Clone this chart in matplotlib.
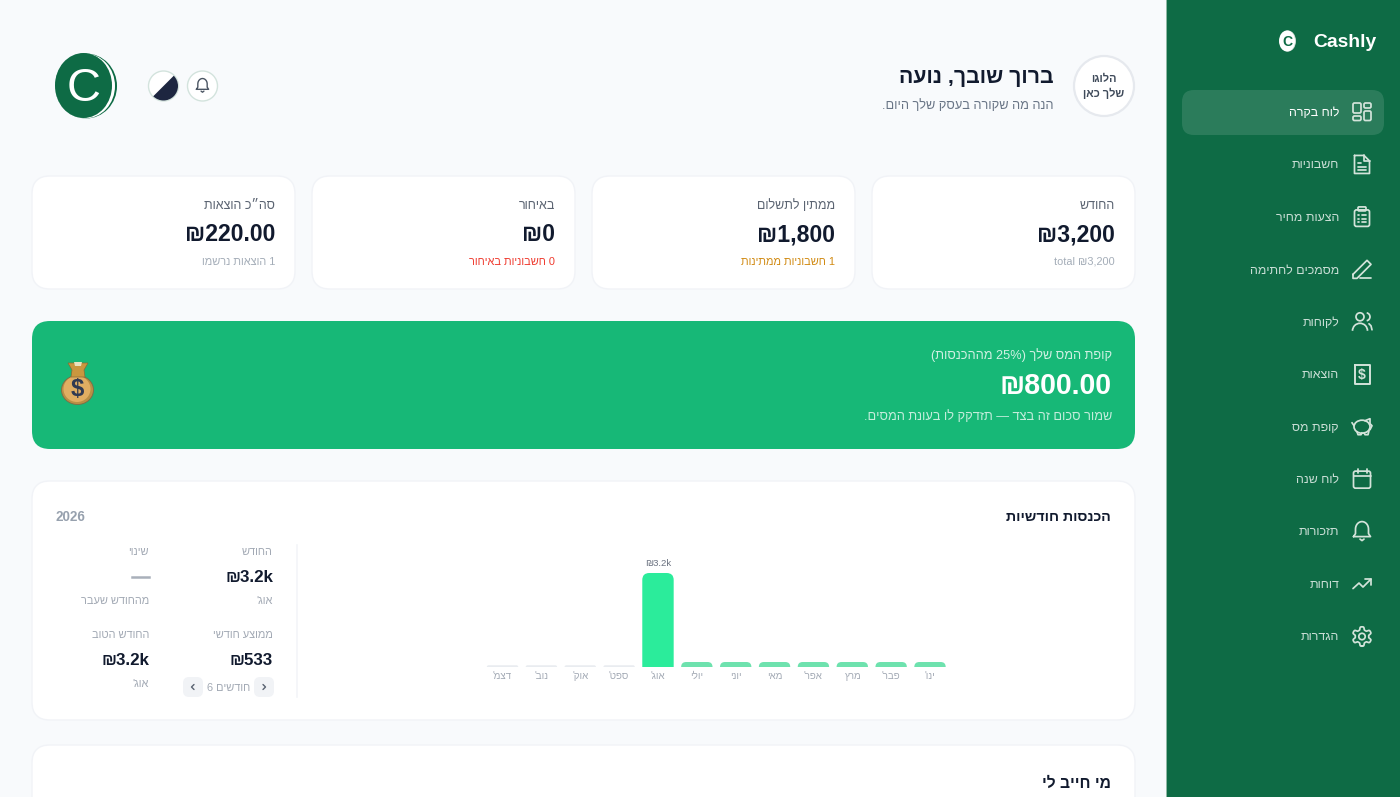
import re
import numpy as np
import matplotlib
matplotlib.use("Agg")
from matplotlib import pyplot as plt
from matplotlib.patches import FancyBboxPatch, Circle, Rectangle, Polygon, PathPatch, Wedge, Ellipse, Arc
from matplotlib.path import Path

FONT = ["Liberation Sans", "DejaVu Sans"]

# data
months = ["ינו'", "פבר'", "מרץ", "אפר'", "מאי", "יוני", "יולי", "אוג'", "ספט'", "אוק'", "נוב'", "דצמ'"]
income = [170, 170, 170, 170, 170, 170, 170, 3200, 60, 60, 60, 60]
bar_label = "₪3.2k"

nav_items = ["לוח בקרה", "חשבוניות", "הצעות מחיר", "מסמכים לחתימה", "לקוחות", "הוצאות",
             "קופת מס", "לוח שנה", "תזכורות", "דוחות", "הגדרות"]

card_titles = ["החודש", "ממתין לתשלום", "באיחור", "סה״כ הוצאות"]
card_values = ["₪3,200", "₪1,800", "₪0", "₪220.00"]
card_notes = ["total ₪3,200", "1 חשבוניות ממתינות", "0 חשבוניות באיחור", "1 הוצאות נרשמו"]

stat_titles = ["החודש", "שינוי", "ממוצע חודשי", "החודש הטוב"]
stat_values = ["₪3.2k", "—", "₪533", "₪3.2k"]
stat_notes = ["אוג'", "מהחודש שעבר", "", "אוג'"]

GREEN = "#0e6b45"
DARK = "#111a2e"
LINE = "#f1f3f7"


def vis(s):
    # matplotlib has no bidi, so hebrew goes in visual order
    if not re.search("[\u0590-\u05ff]", s):
        return s
    parts = re.split(r"([A-Za-z0-9₪][A-Za-z0-9₪%.,]*(?: [A-Za-z0-9₪][A-Za-z0-9₪%.,]*)*)", s)
    out = []
    for i, p in enumerate(parts):
        if i % 2 == 1:
            out.append(p)
        else:
            out.append(p[::-1].translate(str.maketrans("()", ")(")))
    return "".join(out[::-1])


fig = plt.figure(figsize=(14, 7.97), dpi=100, facecolor="#f8fafc")
ax = fig.add_axes([0, 0, 1, 1])
ax.set_xlim(0, 1400)
ax.set_ylim(797, 0)
ax.axis("off")


def txt(x, y, s, px, color=DARK, ha="right", bold=False, alpha=None):
    ax.text(x, y + 0.8, vis(s), fontsize=px * 0.72, color=color, ha=ha, va="center", zorder=10,
            fontweight="bold" if bold else "normal", family=FONT, alpha=alpha)


def box(x0, y0, x1, y1, r, fc, ec="none", lw=1, alpha=None, z=1):
    ax.add_patch(FancyBboxPatch((x0, y0), x1 - x0, y1 - y0, boxstyle=f"round,pad=0,rounding_size={r}",
                                fc=fc, ec=ec, lw=lw, alpha=alpha, zorder=z))


ICON = "#d3e3da"


def line(pts, color=ICON, lw=1.25, closed=False):
    pts = list(pts)
    if closed:
        pts.append(pts[0])
    xs, ys = zip(*pts)
    ax.plot(xs, ys, color=color, lw=lw, solid_capstyle="round", solid_joinstyle="round", zorder=4)


def rbox(cx, cy, x0, y0, x1, y1, r=2, color=ICON, lw=1.25):
    ax.add_patch(FancyBboxPatch((cx + x0, cy + y0), x1 - x0, y1 - y0, boxstyle=f"round,pad=0,rounding_size={r}",
                                fc="none", ec=color, lw=lw, zorder=4))


def circ(cx, cy, r, color=ICON, lw=1.25, fc="none"):
    ax.add_patch(Circle((cx, cy), r, fc=fc, ec=color, lw=lw, zorder=4))


def bell(cx, cy, color=ICON, lw=1.25, s=1.0):
    pts = [(-8.5, 6), (-6.5, 3), (-6.5, -1.5)]
    a = np.linspace(np.pi, 2 * np.pi, 20)
    pts += [(6.5 * np.cos(t), -1.5 + 7.5 * np.sin(t)) for t in a]
    pts += [(6.5, 3), (8.5, 6)]
    line([(cx + s * a_, cy + s * b_) for a_, b_ in pts], color, lw, closed=True)
    line([(cx - 2 * s, cy + 8.5 * s), (cx, cy + 10 * s), (cx + 2 * s, cy + 8.5 * s)], color, lw)


def draw_icon(i, cx, cy):
    if i == 0:
        rbox(cx, cy, -9, -9, -1, 1, r=1.5)
        rbox(cx, cy, 2, -9, 9, -4, r=1.5)
        rbox(cx, cy, -9, 4, -1, 8.5, r=1.5)
        rbox(cx, cy, 2, -1, 9, 8.5, r=1.5)
    elif i == 1:
        line([(cx - 7.5, cy - 9), (cx + 2, cy - 9), (cx + 7.5, cy - 3.5), (cx + 7.5, cy + 9), (cx - 7.5, cy + 9)], closed=True)
        line([(cx + 2, cy - 9), (cx + 2, cy - 3.5), (cx + 7.5, cy - 3.5)])
        for d, w in [(-1, -1), (2.5, 4), (6, 4)]:
            line([(cx - 4, cy + d), (cx + w, cy + d)])
    elif i == 2:
        rbox(cx, cy, -7.5, -7, 7.5, 9.5)
        rbox(cx, cy, -4, -10, 4, -6, r=1)
        for d in (-1.5, 2, 5.5):
            line([(cx - 4, cy + d), (cx - 3, cy + d)])
            line([(cx - 0.5, cy + d), (cx + 4, cy + d)])
    elif i == 3:
        line([(cx - 9, cy + 5), (cx + 5, cy - 9), (cx + 9, cy - 5), (cx - 5, cy + 9), (cx - 9, cy + 9)], closed=True)
        line([(cx - 2, cy + 9), (cx + 9, cy + 9)])
    elif i == 4:
        circ(cx - 2, cy - 5, 4)
        ax.add_patch(Arc((cx - 2, cy + 9), 15, 15, theta1=180, theta2=360, ec=ICON, lw=1.25, zorder=4))
        ax.add_patch(Arc((cx + 4, cy - 5), 8, 8, theta1=-80, theta2=80, ec=ICON, lw=1.25, zorder=4))
        line([(cx + 7, cy + 2), (cx + 9, cy + 4), (cx + 10, cy + 8)])
    elif i == 5:
        line([(cx - 7.5, cy - 9.5), (cx + 7.5, cy - 9.5), (cx + 7.5, cy + 9.5), (cx - 7.5, cy + 9.5)], closed=True, lw=1.4)
        txt(cx, cy, "$", 14, ICON, ha="center", bold=True)
    elif i == 6:
        ax.add_patch(Ellipse((cx, cy), 16, 13, fc="none", ec=ICON, lw=1.25, zorder=4))
        line([(cx - 5, cy + 5), (cx - 4, cy + 8), (cx - 1, cy + 8), (cx, cy + 6)])
        line([(cx + 2, cy + 6), (cx + 3, cy + 8), (cx + 6, cy + 8), (cx + 7, cy + 4)])
        line([(cx + 3, cy - 6), (cx + 8, cy - 8), (cx + 8, cy - 3), (cx + 10, cy - 1), (cx + 8, cy + 3)])
        line([(cx - 8, cy - 1), (cx - 10, cy - 4)])
    elif i == 7:
        rbox(cx, cy, -8.5, -8, 8.5, 9)
        line([(cx - 8.5, cy - 3), (cx + 8.5, cy - 3)])
        line([(cx - 4.5, cy - 10), (cx - 4.5, cy - 6)])
        line([(cx + 4.5, cy - 10), (cx + 4.5, cy - 6)])
    elif i == 8:
        bell(cx, cy - 1)
    elif i == 9:
        line([(cx - 9, cy + 4.5), (cx - 3, cy - 1), (cx + 1, cy + 3), (cx + 9, cy - 5)])
        line([(cx + 3, cy - 5), (cx + 9, cy - 5), (cx + 9, cy + 1)])
    else:
        th = np.linspace(0, 2 * np.pi, 97)[:-1]
        rad = 8.2 + 1.5 * np.tanh(2.5 * np.cos(6 * th))
        line([(cx + rad[k] * np.sin(th[k]), cy + rad[k] * np.cos(th[k])) for k in range(len(th))], closed=True)
        circ(cx, cy, 3.2)


# sidebar
ax.add_patch(Rectangle((1167, 0), 233, 797, fc=GREEN, ec="none", zorder=1))
ax.add_patch(Rectangle((1166, 0), 1, 797, fc="#8fb8a4", ec="none", zorder=1))
ax.add_patch(Ellipse((1288, 41), 16, 21, fc="#cfdcd5", ec="none", zorder=4))
ax.add_patch(Ellipse((1287, 41), 16, 21, fc="white", ec="none", zorder=4))
txt(1287, 41, "C", 14, GREEN, ha="center", bold=True)
txt(1376, 42, "Cashly", 19.3, "white", bold=True)
box(1182, 90, 1384, 135, 12, "#ffffff", alpha=0.12, z=2)
for i, name in enumerate(nav_items):
    y = 112 + i * 52.45
    txt(1339, y, name, 12.4, "white", alpha=1 if i == 0 else 0.78)
    draw_icon(i, 1362, y)

# header
circ(1104, 86, 30, color="#e6e9ee", lw=1.6, fc="white")
txt(1104, 78.5, "הלוגו", 11, "#3f4a5a", ha="center", bold=True)
txt(1104, 92.5, "שלך כאן", 11, "#3f4a5a", ha="center", bold=True)
txt(1054, 76.5, "ברוך שובך, נועה", 21.3, DARK, bold=True)
txt(1054, 104.5, "הנה מה שקורה בעסק שלך היום.", 12.8, "#697586")

ax.add_patch(Ellipse((86, 86), 62, 65, fc=GREEN, ec="none", zorder=3))
ax.add_patch(Ellipse((85, 86), 60, 65, fc="white", ec="none", zorder=3))
ax.add_patch(Ellipse((83.5, 85.5), 57, 65, fc=GREEN, ec="none", zorder=3))
txt(83.5, 88.5, "C", 47, "white", ha="center")

circ(163.5, 86, 15, color="#d3e3dd", lw=1, fc="white")
ax.add_patch(Wedge((163.5, 86), 14.5, 315 - 360, 135, fc="#1d2640", ec="none", zorder=5))
circ(202.5, 86, 15, color="#d3e3dd", lw=1, fc="white")
bell(202.5, 85, color="#4b5563", lw=1.0, s=0.72)

# stat cards
card_left = [872, 592, 312, 32]
note_colors = ["#a4adb8", "#d18a12", "#ef3b2f", "#a4adb8"]
for x0, title, val, note, c in zip(card_left, card_titles, card_values, card_notes, note_colors):
    box(x0, 176, x0 + 263, 289, 18, "white", LINE)
    txt(x0 + 243, 205, title, 12.5, "#5b6472")
    txt(x0 + 243, 234, val, 23, DARK, bold=True)
    txt(x0 + 243, 261, note, 11, c)

# tax banner
box(32, 321, 1135, 449, 18, "#17b877")
txt(1112, 354, "קופת המס שלך (25% מההכנסות)", 12.7, "white", alpha=0.8)
txt(1112, 385, "₪800.00", 28.5, "white", bold=True)
txt(1112, 416, "שמור סכום זה בצד — תזדקק לו בעונת המסים.", 12.8, "white", alpha=0.75)
ax.add_patch(Ellipse((77.5, 390), 32, 29, fc="#b98f45", ec="#7d6a45", lw=0.6, zorder=4))
ax.add_patch(Ellipse((77, 389), 27, 26, fc="#e0ae62", ec="none", zorder=4))
ax.add_patch(Polygon([(68, 363), (88, 363), (84, 370), (85, 377), (71, 377), (72, 370)], fc="#c9973f", ec="#8a6a35", lw=0.5, zorder=4))
ax.add_patch(Polygon([(74, 362), (82, 362), (81, 366), (75, 366)], fc="#e8e2c0", ec="none", zorder=4))
txt(77.5, 389, "$", 24, "#2f3a52", ha="center", bold=True)

# income card
box(32, 481, 1135, 720, 18, "white", LINE)
txt(1111, 516, "הכנסות חודשיות", 14.2, DARK, bold=True)
txt(56, 516, "2026", 13.5, "#97a1ae", ha="left", bold=True)
ax.plot([297, 297], [545, 697], color="#f3f5f8", lw=1.2, zorder=3)
stat_pos = [(273, 551), (149, 551), (273, 634), (149, 634)]
for (x, y), title, val, note in zip(stat_pos, stat_titles, stat_values, stat_notes):
    txt(x, y, title, 11, "#a2a9b4")
    if val == "—":
        ax.plot([132, 149], [577, 577], color="#a9b0ba", lw=1.8, zorder=3)
    else:
        txt(x, y + 25.5, val, 17, DARK, bold=True)
    if note:
        txt(x, y + 49, note, 11, "#a2a9b4")
box(254, 677, 274, 697, 6, "#f1f3f6")
box(183, 677, 203, 697, 6, "#f1f3f6")
line([(263, 684.5), (265.5, 687), (263, 689.5)], "#5b6472", 1.0)
line([(194, 684.5), (191.5, 687), (194, 689.5)], "#5b6472", 1.0)
txt(228.5, 687, "חודשים 6", 11, "#a2a9b4", ha="center")

# bars
px_x0, px_x1, px_bottom, px_top = 483, 949, 667, 545
ax2 = fig.add_axes([px_x0 / 1400, 1 - px_bottom / 797, (px_x1 - px_x0) / 1400, (px_bottom - px_top) / 797])
ax2.patch.set_alpha(0)
step = 38.86
ax2.set_xlim((930 - px_x0) / step, (930 - px_x1) / step)
ax2.set_ylim(0, 3200 * (px_bottom - px_top) / 94)
for s in ax2.spines.values():
    s.set_visible(False)
ax2.tick_params(length=0, pad=3)
ax2.set_yticks([])
ax2.set_xticks(range(len(months)))
ax2.set_xticklabels([vis(m) for m in months], fontsize=7, color="#a2a9b4", family=FONT)

unit_x = 1 / step
unit_y = ax2.get_ylim()[1] / (px_bottom - px_top)
half = 15.7 * unit_x
for i, v in enumerate(income):
    if v >= 1000:
        c = "#2bec9b"
    elif v >= 100:
        c = "#6ee2ae"
    else:
        c = "#e9ecf0"
    r_px = min(7, v / unit_y)
    rx, ry = r_px * unit_x, r_px * unit_y
    verts = [(i - half, 0), (i - half, v - ry), (i - half, v), (i - half + rx, v), (i + half - rx, v),
             (i + half, v), (i + half, v - ry), (i + half, 0), (i - half, 0)]
    codes = [Path.MOVETO, Path.LINETO, Path.CURVE3, Path.CURVE3, Path.LINETO, Path.CURVE3, Path.CURVE3, Path.LINETO, Path.CLOSEPOLY]
    ax2.add_patch(PathPatch(Path(verts, codes), fc=c, ec="none"))
ax2.text(7, 3200 + 10 * unit_y, bar_label, fontsize=6.8, color="#6b7280", ha="center", va="center", family=FONT)

# next card, cut by the window
box(32, 745, 1135, 830, 18, "white", LINE)
txt(1111, 783, "מי חייב לי", 15.6, DARK, bold=True)

fig.savefig("out.png", dpi=100, facecolor=fig.get_facecolor())
